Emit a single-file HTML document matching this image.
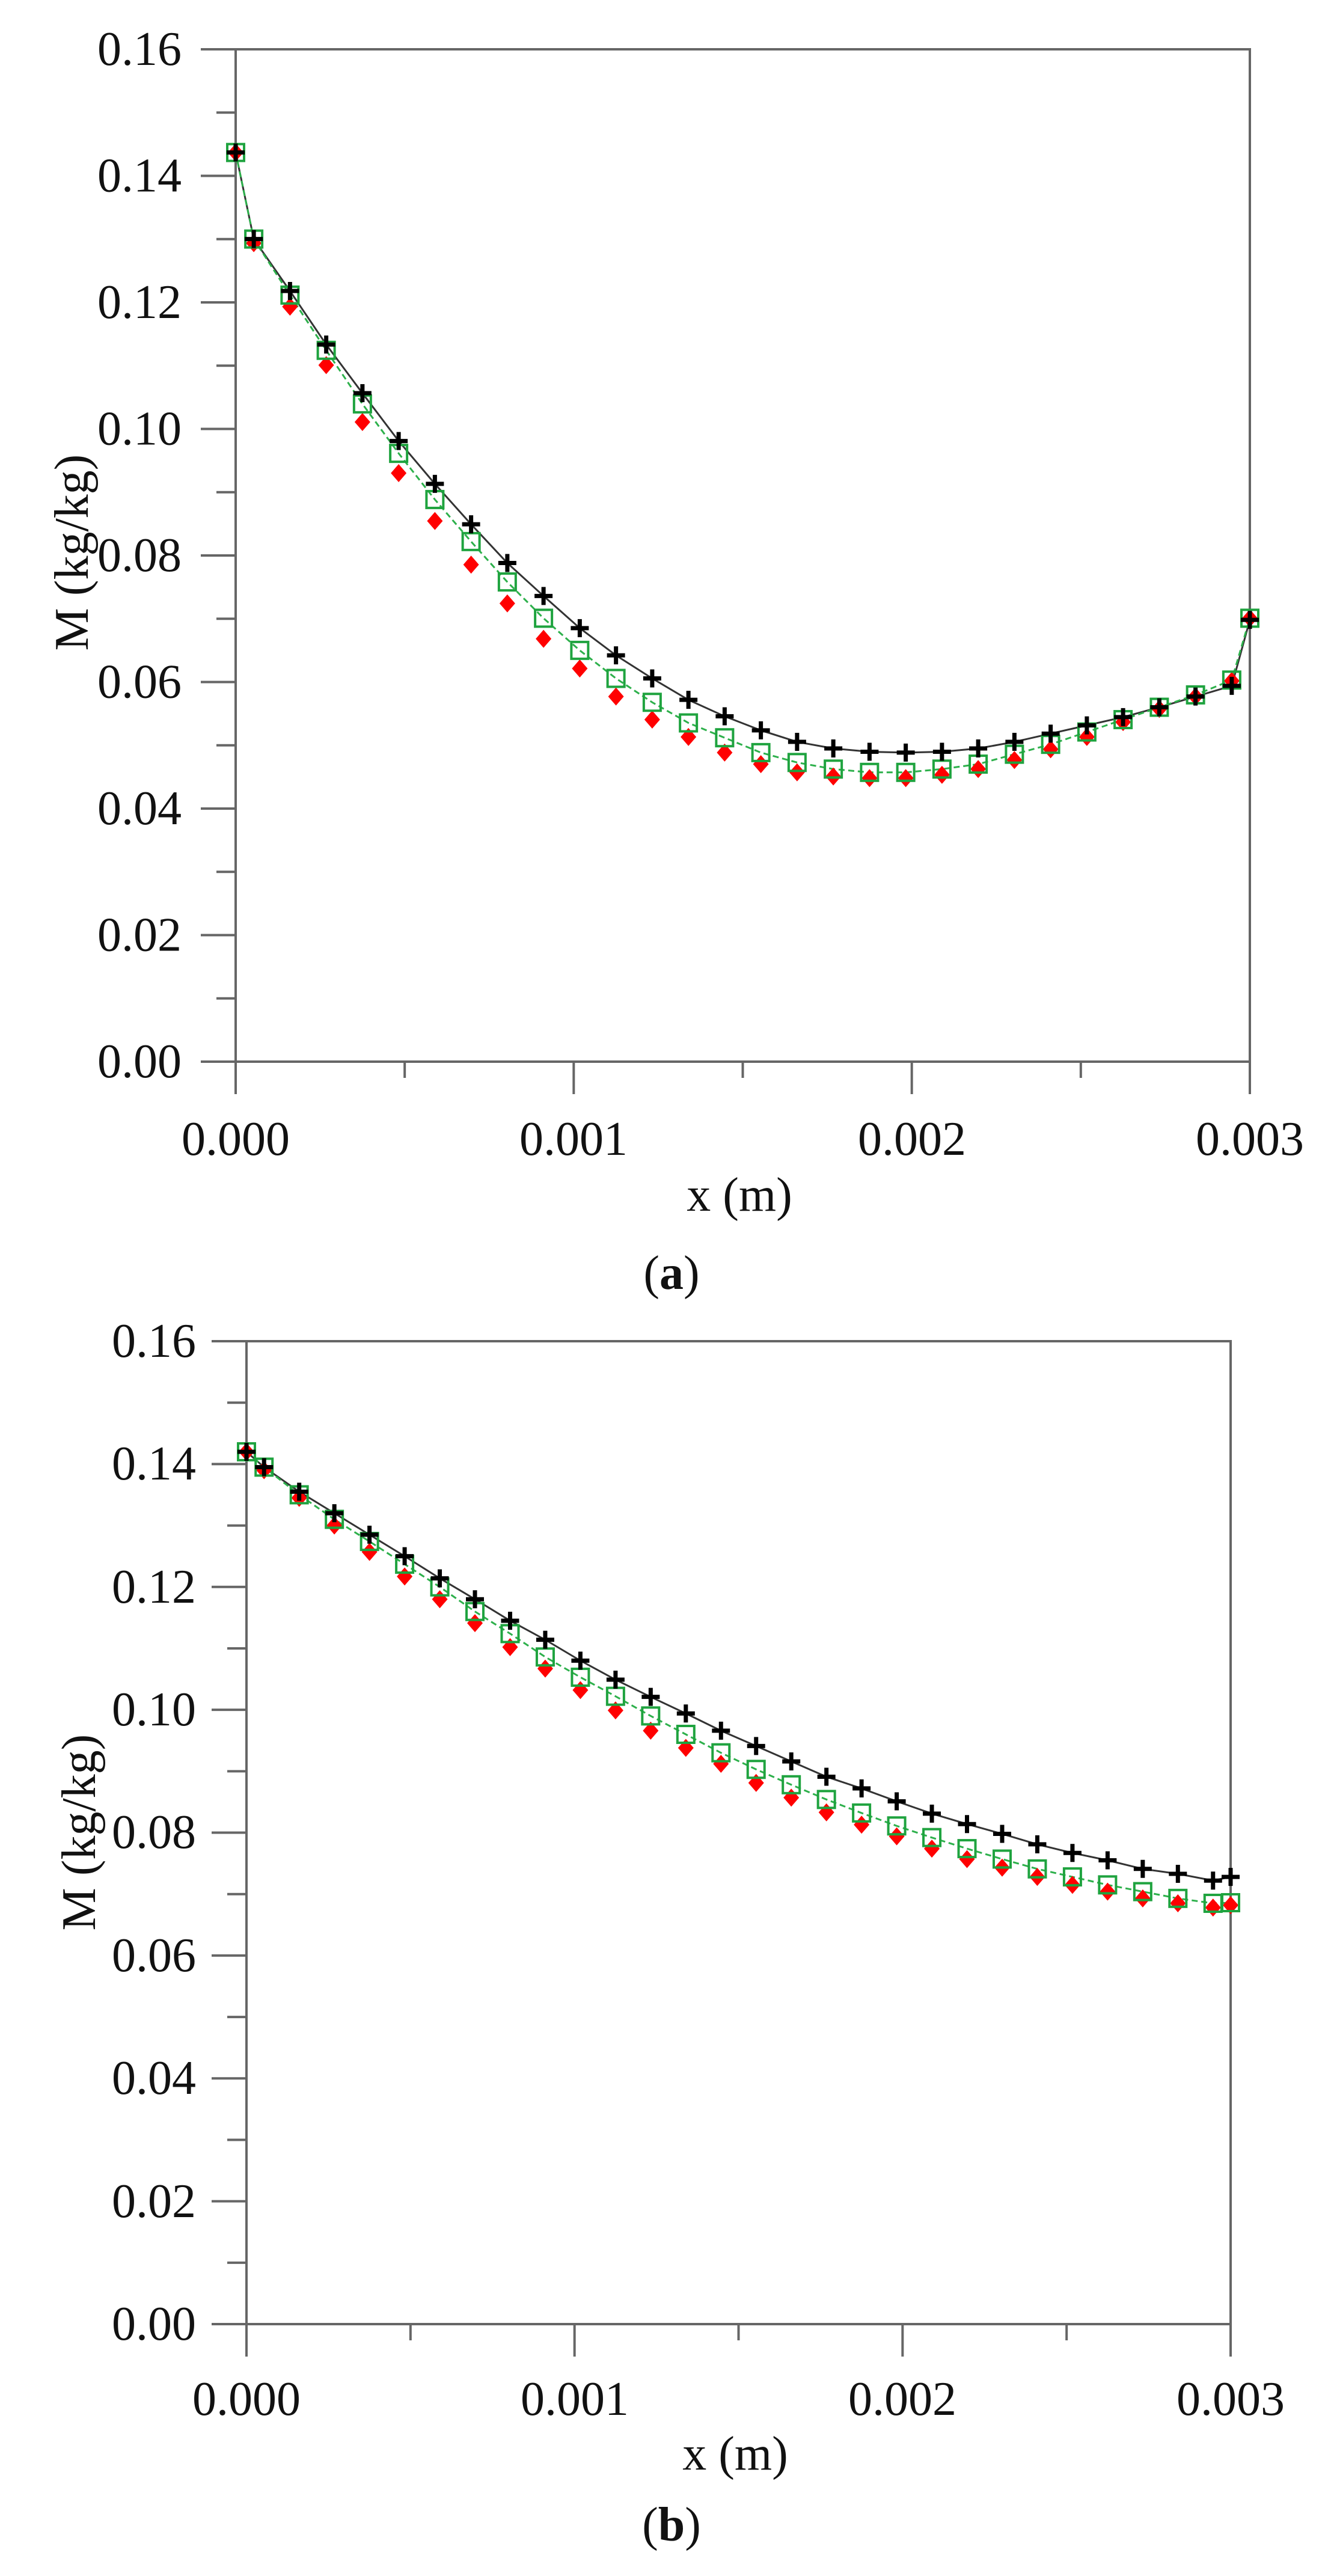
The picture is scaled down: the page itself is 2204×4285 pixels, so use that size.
<!DOCTYPE html>
<html><head><meta charset="utf-8"><style>html,body{margin:0;padding:0;background:#fff}svg{display:block}</style></head>
<body>
<svg id="s" width="2204" height="4285" viewBox="0 0 2204 4285" xmlns="http://www.w3.org/2000/svg" font-family="Liberation Serif, serif" fill="#000">
<rect width="2204" height="4285" fill="#fff"/>
<g id="axes" stroke="#666" stroke-width="4" fill="none"></g>
<g id="data"></g>
<g font-size="80" text-anchor="end" dominant-baseline="central" fill="#111">
<text x="302" y="82">0.16</text><text x="302" y="292.5">0.14</text><text x="302" y="503">0.12</text><text x="302" y="713.5">0.10</text><text x="302" y="924">0.08</text><text x="302" y="1134.5">0.06</text><text x="302" y="1345">0.04</text><text x="302" y="1555.5">0.02</text><text x="302" y="1766">0.00</text>
<text x="326" y="2231">0.16</text><text x="326" y="2435">0.14</text><text x="326" y="2640">0.12</text><text x="326" y="2844">0.10</text><text x="326" y="3048">0.08</text><text x="326" y="3253">0.06</text><text x="326" y="3457">0.04</text><text x="326" y="3662">0.02</text><text x="326" y="3866">0.00</text>
</g>
<g font-size="80" text-anchor="middle" dominant-baseline="central" fill="#111">
<text x="392" y="1895">0.000</text><text x="954" y="1895">0.001</text><text x="1517" y="1895">0.002</text><text x="2079" y="1895">0.003</text>
<text x="410" y="3991">0.000</text><text x="956" y="3991">0.001</text><text x="1501" y="3991">0.002</text><text x="2047" y="3991">0.003</text>
<text x="1230" y="1988" font-size="80">x (m)</text>
<text x="1223" y="4082" font-size="80">x (m)</text>
<text x="1117" y="2118" font-size="80">(<tspan font-weight="bold">a</tspan>)</text>
<text x="1117" y="4200" font-size="80">(<tspan font-weight="bold">b</tspan>)</text>
<text transform="translate(120,919) rotate(-90)" font-size="80">M (kg/kg)</text>
<text transform="translate(132,3048) rotate(-90)" font-size="80">M (kg/kg)</text>
</g>
</svg>
<script>
(function(){
var NS="http://www.w3.org/2000/svg";
function el(p,t,a){var e=document.createElementNS(NS,t);for(var k in a)e.setAttribute(k,a[k]);p.appendChild(e);return e;}
var ax=document.getElementById('axes'),dg=document.getElementById('data');
function axes(L,R,T,B){
 el(ax,'rect',{x:L,y:T,width:R-L,height:B-T});
 var h=B-T;
 for(var i=0;i<=16;i++){var y=B-i*h/16;var len=(i%2==0)?58:32;el(ax,'line',{x1:L-len,y1:y,x2:L,y2:y});}
 var w=R-L;
 for(var i=0;i<=6;i++){var x=L+i*w/6;var len=(i%2==0)?54:27;el(ax,'line',{x1:x,y1:B,x2:x,y2:B+len});}
}
axes(392,2079,82,1766);axes(410,2047,2231,3866);
function xs(L,R){var a=[L];for(var i=0;i<28;i++)a.push(L+(i+0.5)*(R-L)/28);a.push(R);return a;}
function draw(X,Yb,Yg,Yr){
 var pb='',pg='';
 for(var i=0;i<X.length;i++){pb+=(i?'L':'M')+X[i]+' '+Yb[i];pg+=(i?'L':'M')+X[i]+' '+Yg[i];}
 el(dg,'path',{d:pb,stroke:'#333',fill:'none','stroke-width':3});
 el(dg,'path',{d:pg,stroke:'#2db04b',fill:'none','stroke-width':3,'stroke-dasharray':'10 6'});
 for(var i=0;i<X.length;i++){var x=X[i],y=Yr[i];
  el(dg,'path',{d:'M'+x+' '+(y-15)+'L'+(x+13)+' '+y+'L'+x+' '+(y+15)+'L'+(x-13)+' '+y+'Z',fill:'#f00'});}
 for(var i=0;i<X.length;i++){var x=X[i],y=Yg[i];
  el(dg,'rect',{x:x-14,y:y-14,width:28,height:28,fill:'none',stroke:'#1fa33f','stroke-width':4});}
 for(var i=0;i<X.length;i++){var x=X[i],y=Yb[i];
  el(dg,'path',{d:'M'+(x-15)+' '+y+'H'+(x+15)+'M'+x+' '+(y-15)+'V'+(y+15),stroke:'#000','stroke-width':7,fill:'none'});}
}
var k=0.7293;
function cv(a){return a.map(function(v){return v/k;});}
var Xa=xs(392,2079);
var ba=[185,290,353,418,477,535,587,636,683,723,762,795,823,849,869,886,900,908,912,913,912,908,900,890,880,870,858,845,832,752];
var ga=[185,290,358,425,490,550,606,657,706,750,789,823,852,877,895,913,925,933,937,937,933,927,915,903,888,873,858,843,825,750];
var ra=[185,295,372,443,512,574,632,685,732,775,811,845,873,894,913,927,937,942,944,944,940,933,922,909,894,876,860,845,826,750];
draw(Xa,cv(ba),cv(ga),cv(ra));
var Xb=xs(410,2047);
function yb(a){return a.map(function(v){return 3866-v/0.16*1635;});}
var bb=[0.142,0.1395,0.1355,0.132,0.1285,0.125,0.1214,0.118,0.1145,0.1114,0.108,0.1049,0.1021,0.0994,0.0966,0.0941,0.0916,0.0891,0.0872,0.0851,0.0831,0.0814,0.0798,0.0781,0.0767,0.0755,0.0741,0.0733,0.0722,0.0728];
var gb=[0.142,0.1395,0.135,0.131,0.1274,0.1237,0.12,0.116,0.1124,0.1086,0.1053,0.1022,0.099,0.096,0.093,0.0903,0.0878,0.0854,0.0832,0.0811,0.0792,0.0774,0.0757,0.0741,0.0728,0.0715,0.0704,0.0693,0.0685,0.0686];
var rb=[0.142,0.139,0.1345,0.130,0.1257,0.1217,0.118,0.1141,0.1102,0.1067,0.1032,0.0999,0.0966,0.0938,0.0912,0.0881,0.0857,0.0833,0.0813,0.0794,0.0774,0.0757,0.0743,0.0728,0.0715,0.0704,0.0693,0.0685,0.0678,0.0682];
draw(Xb,yb(bb),yb(gb),yb(rb));
})();
</script>
</body></html>
